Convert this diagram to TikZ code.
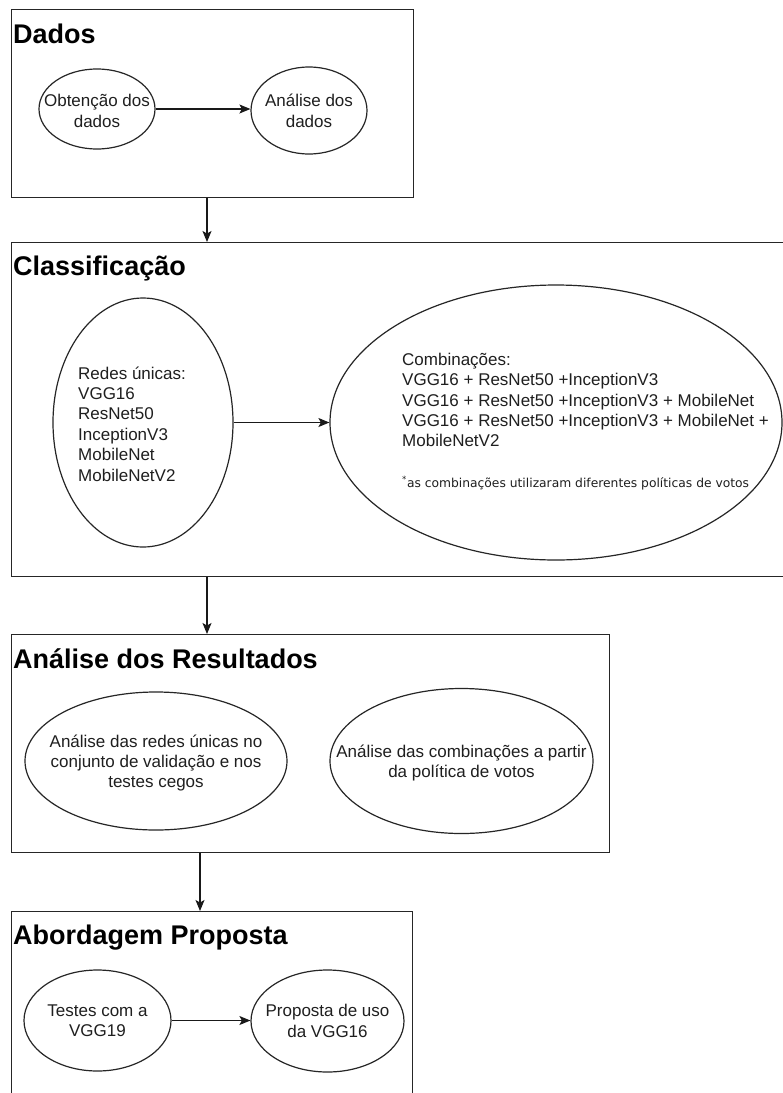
\documentclass[tikz,border=0pt]{standalone}
\usepackage{fontspec}
\setmainfont{Liberation Sans}
\newfontfamily\notefont{DejaVu Sans}
\usetikzlibrary{arrows.meta,shapes.geometric}

\begin{document}
\begin{tikzpicture}[x=1pt,y=-1pt,
  panel/.style={draw=black!85, line width=1.4pt, rectangle, inner sep=0pt, anchor=north west},
  oval/.style={draw=black!85, line width=1.2pt, ellipse, inner sep=0pt},
  heading/.style={anchor=base west, inner sep=0pt, font=\fontsize{27}{32}\selectfont\bfseries},
  body/.style={inner sep=0pt, font=\fontsize{17}{20.4}\selectfont, text=black!88},
  note/.style={anchor=base west, inner sep=0pt, font=\notefont\fontsize{12.3}{14}\selectfont, text=black!88},
  flow/.style={line width=1.2pt, draw=black!90, -{Stealth[length=11pt,width=9pt,inset=2.5pt]}},
]
\fill[white] (0,0) rectangle (783,1093);
\useasboundingbox (0,0) rectangle (783,1093);

% ---- stage panels ----
\node[panel, minimum width=402pt, minimum height=188pt] (dados) at (11,9) {};
\node[panel, minimum width=779pt, minimum height=334pt] (class) at (11,242) {};
\node[panel, minimum width=598pt, minimum height=218pt] (result) at (11,634) {};
\node[panel, minimum width=401pt, minimum height=200pt] (abord) at (11,911) {};

% ---- panel headings ----
\node[heading] (tdados) at (13,43) {Dados};
\node[heading] (tclass) at (13,275) {Classificação};
\node[heading] (tresult) at (13,668) {Análise dos Resultados};
\node[heading] (tabord) at (13,944) {Abordagem Proposta};

% ---- Dados ----
\node[oval, minimum width=116pt, minimum height=80pt] (obt) at (97,109) {};
\node[oval, minimum width=116pt, minimum height=87pt] (ana) at (309,110.5) {};
\node[body, align=center] (obtT) at (97,111) {Obtenção dos\\dados};
\node[body, align=center] (anaT) at (309,111) {Análise dos\\dados};
\draw[flow] (obt.east) -- (obt.east -| ana.west);

% ---- Classificação ----
\node[oval, minimum width=180pt, minimum height=249pt] (redes) at (143,422.5) {};
\node[oval, minimum width=452pt, minimum height=275pt] (comb) at (556,422.5) {};
\node[body, align=left, anchor=west] (redesT) at (78,424)
  {Redes únicas:\\VGG16\\ResNet50\\InceptionV3\\MobileNet\\MobileNetV2};
\node[body, align=left, anchor=west] (combT) at (402,400)
  {Combinações:\\VGG16 + ResNet50 +InceptionV3\\VGG16 + ResNet50 +InceptionV3 + MobileNet\\VGG16 + ResNet50 +InceptionV3 + MobileNet +\\MobileNetV2};
\node[note] (combN) at (402,487) {\textsuperscript{*}as combinações utilizaram diferentes políticas de votos};
\draw[flow] (redes.east) -- (redes.east -| comb.west);

% ---- Análise dos Resultados ----
\node[oval, minimum width=262pt, minimum height=138pt] (redval) at (156,761) {};
\node[oval, minimum width=263pt, minimum height=145pt] (combv) at (461.5,761) {};
\node[body, align=center] (redvalT) at (156,763)
  {Análise das redes únicas no\\conjunto de validação e nos\\testes cegos};
\node[body, align=center] (combvT) at (461.5,763)
  {Análise das combinações a partir\\da política de votos};

% ---- Abordagem Proposta ----
\node[oval, minimum width=147pt, minimum height=101pt] (testes) at (97.5,1020.5) {};
\node[oval, minimum width=153pt, minimum height=102pt] (prop) at (327.5,1021) {};
\node[body, align=center] (testesT) at (97.5,1021) {Testes com a\\VGG19};
\node[body, align=center] (propT) at (327.5,1021) {Proposta de uso\\da VGG16};
\draw[flow] (testes.east) -- (testes.east -| prop.west);

% ---- links between stages ----
\coordinate (ax1) at (207,0);
\coordinate (ax2) at (207,0);
\coordinate (ax3) at (200,0);
\draw[flow] (dados.south -| ax1) -- (class.north -| ax1);
\draw[flow] (class.south -| ax2) -- (result.north -| ax2);
\draw[flow] (result.south -| ax3) -- (abord.north -| ax3);
\end{tikzpicture}
\end{document}
